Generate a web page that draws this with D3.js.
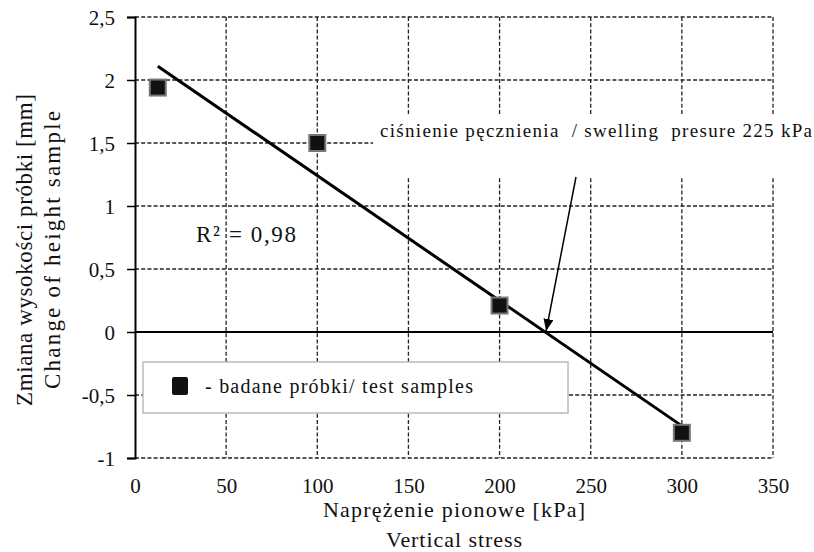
<!DOCTYPE html>
<html><head><meta charset="utf-8">
<script src="https://cdn.jsdelivr.net/npm/d3@7"></script>
<style>body{margin:0;background:#fff}svg{display:block}</style>
</head><body>
<svg id="c" width="814" height="552" font-family="Liberation Serif, serif"></svg>
<script>
const stress = [12.5, 100, 200, 300];
const heightChange = [1.94, 1.5, 0.21, -0.8];
const trendX = [12.5, 300];
const trendY = [2.11, -0.745];
const xTicks = [0, 50, 100, 150, 200, 250, 300, 350];
const yTicks = [-1, -0.5, 0, 0.5, 1, 1.5, 2, 2.5];
const fmt = v => String(v).replace('.', ',');
const FF = 'Liberation Serif, serif';

const svg = d3.select('#c');
const x = d3.scaleLinear().domain([0, 350]).range([135, 773]);
const y = d3.scaleLinear().domain([-1, 2.5]).range([458, 17]);

function txt(sel, size) {
  return sel.attr('font-family', FF).style('font-family', FF).attr('font-size', size).style('font-size', size + 'px').attr('fill', '#111');
}

const dash = '4,2.2';
svg.append('g').selectAll('line').data(xTicks.filter(t => t > 0)).join('line')
  .attr('x1', d => x(d)).attr('x2', d => x(d)).attr('y1', y(2.5)).attr('y2', y(-1))
  .attr('stroke', '#222').attr('stroke-width', 1.3).attr('stroke-dasharray', dash);
svg.append('g').selectAll('line').data(yTicks.filter(t => t !== 0)).join('line')
  .attr('x1', x(0)).attr('x2', x(350)).attr('y1', d => y(d)).attr('y2', d => y(d))
  .attr('stroke', '#222').attr('stroke-width', 1.3).attr('stroke-dasharray', dash);

svg.append('rect').attr('x', 373).attr('y', 115).attr('width', 441).attr('height', 62).attr('fill', '#fff');

svg.append('line').attr('x1', x(0)).attr('x2', x(350)).attr('y1', y(0)).attr('y2', y(0))
  .attr('stroke', '#000').attr('stroke-width', 2);

const yAxis = d3.axisLeft(y).tickValues(yTicks).tickSize(8).tickFormat(fmt);
const ga = svg.append('g').attr('transform', `translate(${x(0)},0)`).call(yAxis);
ga.attr('font-family', null).attr('font-size', null);
ga.select('.domain').attr('stroke', '#000').attr('stroke-width', 2);
ga.selectAll('.tick line').attr('stroke', '#000').attr('stroke-width', 1.5);
txt(ga.selectAll('.tick text'), 21).attr('x', -20).attr('dy', '0.35em');

const xAxis = d3.axisBottom(x).tickValues(xTicks).tickSize(0).tickFormat(d => d);
const gx = svg.append('g').attr('transform', `translate(0,${y(-1)})`).call(xAxis);
gx.attr('font-family', null).attr('font-size', null);
gx.select('.domain').remove();
txt(gx.selectAll('.tick text'), 21).attr('y', 20).attr('dy', '0.71em');

svg.append('line').attr('x1', x(trendX[0])).attr('y1', y(trendY[0]))
  .attr('x2', x(trendX[1])).attr('y2', y(trendY[1]))
  .attr('stroke', '#000').attr('stroke-width', 3);

svg.append('g').selectAll('rect').data(stress.map((s, i) => [s, heightChange[i]])).join('rect')
  .attr('x', d => x(d[0]) - 8).attr('y', d => y(d[1]) - 8).attr('width', 16).attr('height', 16)
  .attr('fill', '#111').attr('stroke', '#777').attr('stroke-width', 2);

txt(svg.append('text'), 19).attr('x', 380).attr('y', 137)
  .attr('textLength', 432).attr('lengthAdjust', 'spacing').style('white-space', 'pre')
  .text('ciśnienie pęcznienia  / swelling  presure 225 kPa');

svg.append('defs').append('marker').attr('id', 'ah').attr('viewBox', '0 0 12 10')
  .attr('refX', 12).attr('refY', 5).attr('markerWidth', 12).attr('markerHeight', 10)
  .attr('markerUnits', 'userSpaceOnUse').attr('orient', 'auto')
  .append('path').attr('d', 'M0,0L12,5L0,10Z').attr('fill', '#000');
svg.append('line').attr('x1', 576).attr('y1', 177).attr('x2', x(225) + 1).attr('y2', y(0) - 1)
  .attr('stroke', '#000').attr('stroke-width', 1.5).attr('marker-end', 'url(#ah)');

txt(svg.append('text'), 23).attr('x', 196).attr('y', 242).attr('textLength', 100).attr('lengthAdjust', 'spacing').text('R² = 0,98');

svg.append('rect').attr('x', 143).attr('y', 362).attr('width', 425).attr('height', 51)
  .attr('fill', '#fff').attr('stroke', '#bbb').attr('stroke-width', 1.5);
svg.append('rect').attr('x', 172).attr('y', 377).attr('width', 16).attr('height', 18).attr('rx', 2)
  .attr('fill', '#111');
txt(svg.append('text'), 20).attr('x', 205).attr('y', 393)
  .attr('textLength', 268).attr('lengthAdjust', 'spacing')
  .text('- badane próbki/ test samples');

txt(svg.append('text'), 22).attr('x', 454).attr('y', 517).attr('text-anchor', 'middle')
  .attr('textLength', 262).attr('lengthAdjust', 'spacing').text('Naprężenie pionowe [kPa]');
txt(svg.append('text'), 22).attr('x', 454).attr('y', 547).attr('text-anchor', 'middle')
  .attr('textLength', 136).attr('lengthAdjust', 'spacing').text('Vertical stress');
const yt = svg.append('g').attr('transform', 'translate(0,250) rotate(-90)');
txt(yt.append('text'), 23).attr('x', 0).attr('y', 32).attr('text-anchor', 'middle')
  .attr('textLength', 312).attr('lengthAdjust', 'spacing').text('Zmiana wysokości próbki [mm]');
txt(yt.append('text'), 23).attr('x', 0).attr('y', 60).attr('text-anchor', 'middle')
  .attr('textLength', 278).attr('lengthAdjust', 'spacing').text('Change of height sample');
</script>
</body></html>
